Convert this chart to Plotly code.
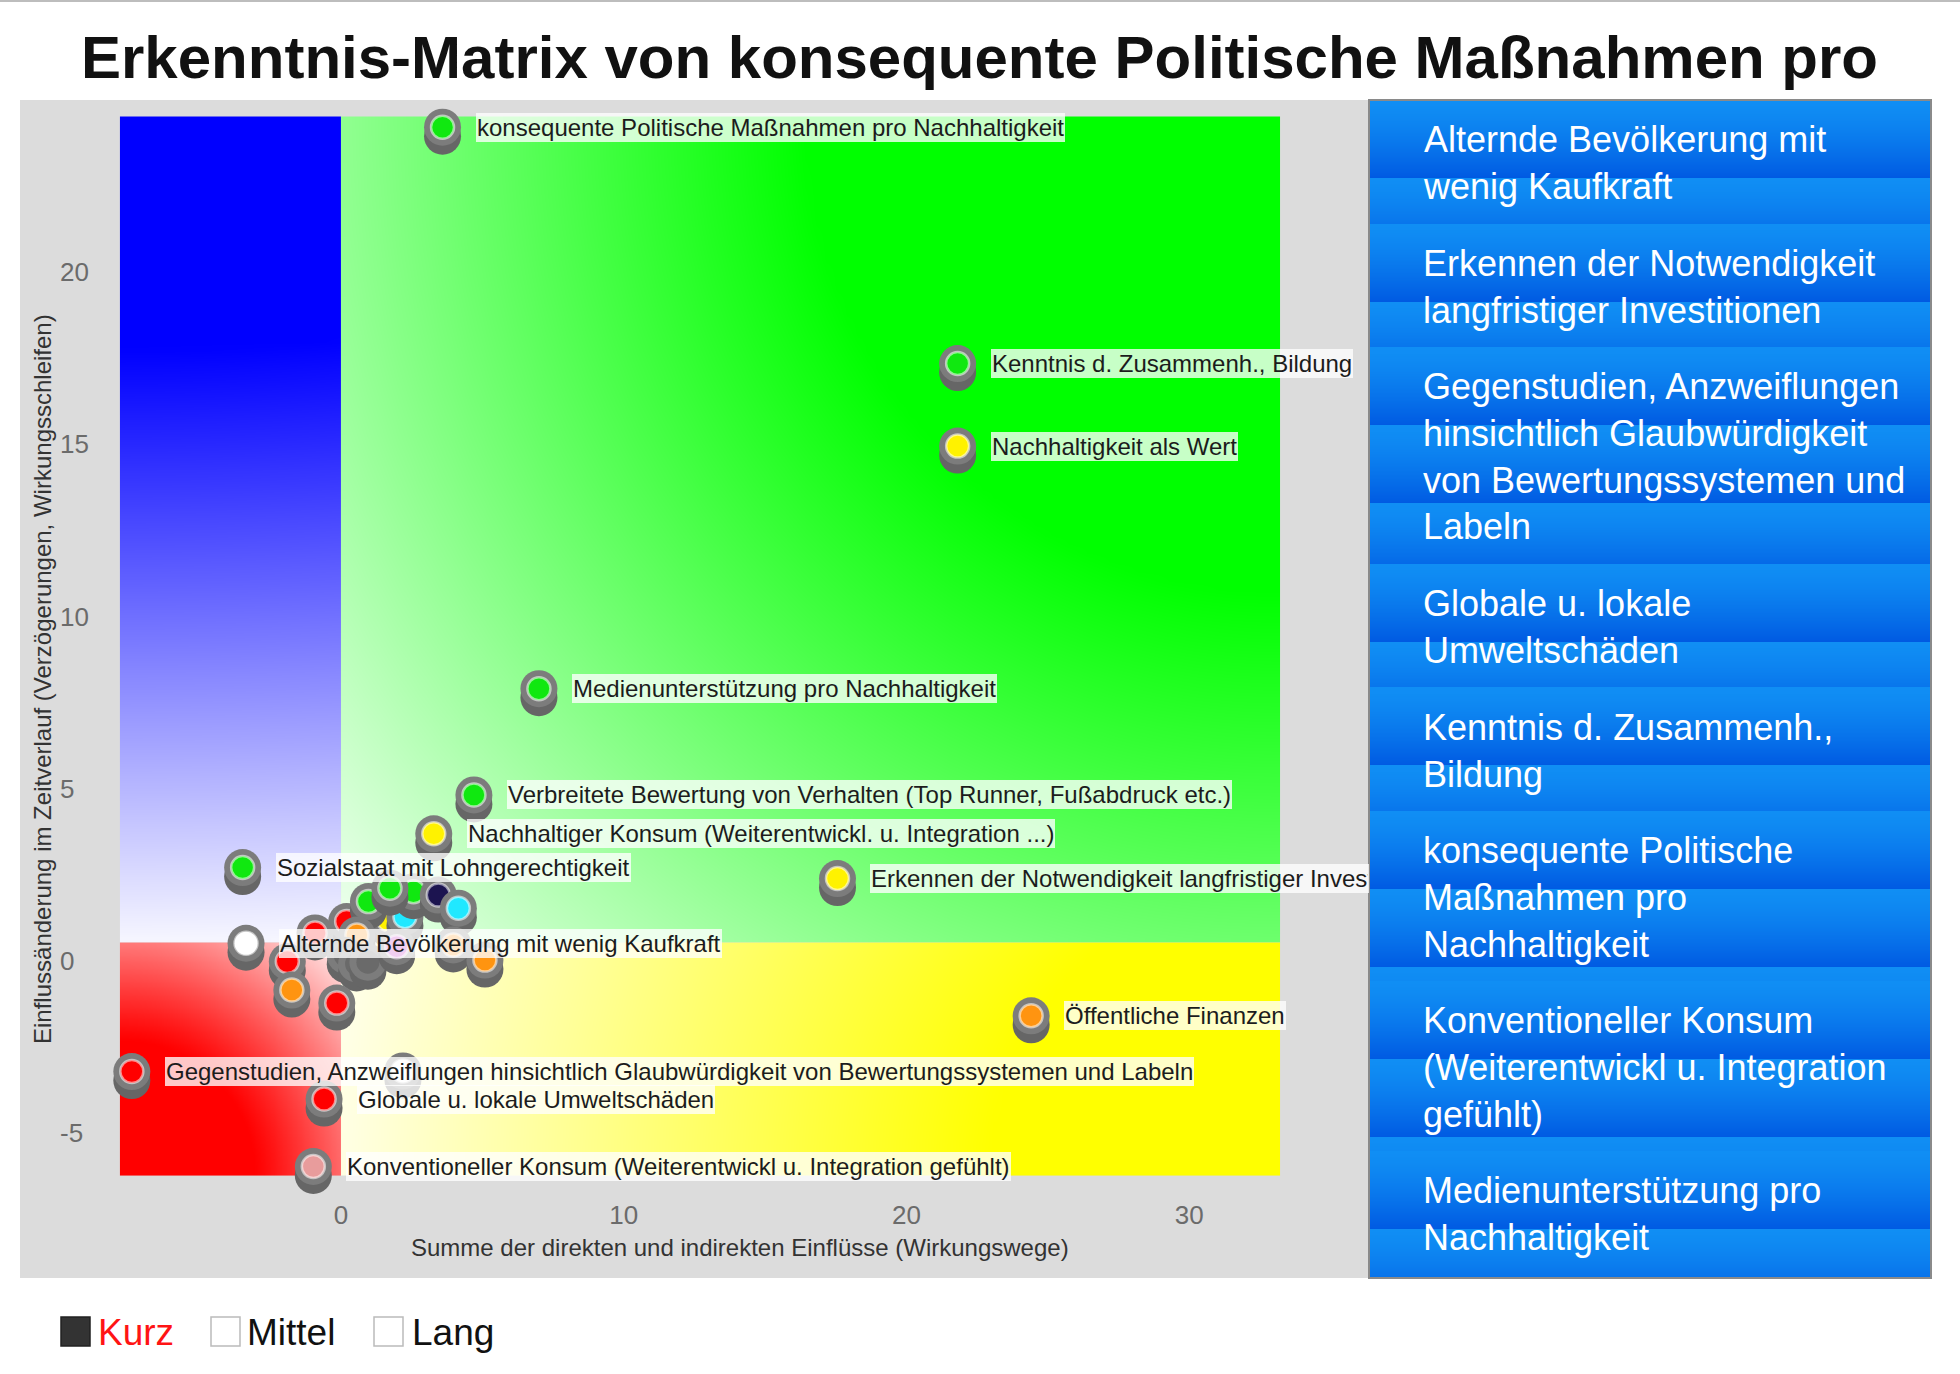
import numpy as np
import plotly.graph_objects as go

W, H = 1960, 1374
FONT = "Liberation Sans, Arial, Helvetica, sans-serif"

# ---------------- data ----------------
title_text = "Erkenntnis-Matrix von konsequente Politische Maßnahmen pro"
x_title = "Summe der direkten und indirekten Einflüsse (Wirkungswege)"
y_title = "Einflussänderung im Zeitverlauf (Verzögerungen, Wirkungsschleifen)"

x_ticks = [0, 10, 20, 30]
y_ticks = [-5, 0, 5, 10, 15, 20]
y_tick_text = ["-5", "0", "5", "10", "15", "20"]

point_labels = [
    "konsequente Politische Maßnahmen pro Nachhaltigkeit",
    "Kenntnis d. Zusammenh., Bildung",
    "Nachhaltigkeit als Wert",
    "Medienunterstützung pro Nachhaltigkeit",
    "Verbreitete Bewertung von Verhalten (Top Runner, Fußabdruck etc.)",
    "Nachhaltiger Konsum (Weiterentwickl. u. Integration ...)",
    "Sozialstaat mit Lohngerechtigkeit",
    "Erkennen der Notwendigkeit langfristiger Investitionen",
    "", "", "", "", "", "", "", "", "", "", "", "", "", "", "", "",
    "Alternde Bevölkerung mit wenig Kaufkraft",
    "", "", "",
    "Öffentliche Finanzen",
    "",
    "Gegenstudien, Anzweiflungen hinsichtlich Glaubwürdigkeit von Bewertungssystemen und Labeln",
    "Globale u. lokale Umweltschäden",
    "Konventioneller Konsum (Weiterentwickl u. Integration gefühlt)",
]
point_x = [3.59, 21.81, 21.81, 7.00, 4.70, 3.28, -3.48, 17.56,
           0.20, 1.67, 2.26, 0.97, 2.56, 1.73, 3.44, 4.15,
           -0.92, 0.56, 0.15, 0.55, 0.95, 1.97, 3.97, 5.09,
           -3.36, -1.90, -1.74, -0.15, 24.41, 2.19, -7.40, -0.60, -0.98]
point_y = [24.22, 17.35, 14.95, 7.90, 4.81, 3.68, 2.70, 2.38,
           1.13, 1.18, 1.27, 1.71, 2.00, 2.10, 1.90, 1.52,
           0.80, 0.74, 0.15, -0.10, -0.05, 0.40, 0.45, 0.01,
           0.50, -0.03, -0.86, -1.24, -1.61, -3.21, -3.23, -4.03, -5.99]
point_color = ["#10e810", "#10e810", "#fff200", "#10e810", "#10e810", "#fff200", "#10e810", "#fff200",
               "#ff0000", "#fff200", "#20e8ff", "#10e810", "#10e810", "#10e810", "#1c1450", "#20e8ff",
               "#ff0000", "#ff9410", "#6a6a6a", "#6a6a6a", "#6a6a6a", "#c020c0", "#ff9410", "#ff9410",
               "#ffffff", "#ff0000", "#ff9410", "#ff0000", "#ff9410", "#ffffff", "#ff0000", "#ff0000", "#e89c9c"]

panel_items = [
    ["Alternde Bevölkerung mit", "wenig Kaufkraft"],
    ["Erkennen der Notwendigkeit", "langfristiger Investitionen"],
    ["Gegenstudien, Anzweiflungen", "hinsichtlich Glaubwürdigkeit", "von Bewertungssystemen und", "Labeln"],
    ["Globale u. lokale", "Umweltschäden"],
    ["Kenntnis d. Zusammenh.,", "Bildung"],
    ["konsequente Politische", "Maßnahmen pro", "Nachhaltigkeit"],
    ["Konventioneller Konsum", "(Weiterentwickl u. Integration", "gefühlt)"],
    ["Medienunterstützung pro", "Nachhaltigkeit"],
]

legend_items = ["Kurz", "Mittel", "Lang"]
legend_active = [True, False, False]

# ---------------- geometry ----------------
PLOT_L, PLOT_R, PLOT_T, PLOT_B = 20, 1369, 100, 1278
X_RANGE = [-11.355, 36.36]
Y_RANGE = [-9.23, 25.01]
SX = (PLOT_R - PLOT_L) / (X_RANGE[1] - X_RANGE[0])
SY = (PLOT_B - PLOT_T) / (Y_RANGE[1] - Y_RANGE[0])

QX0, QX1, QY0, QY1 = -7.82, 33.22, -6.26, 24.53
SPX, SPY = 0.0, 0.52

PANEL_L, PANEL_R, PANEL_T, PANEL_B = 1369, 1931, 100, 1278
LABEL_SIZE = 24


def px(v):
    return v / W


def py(v):
    return 1 - v / H


fig = go.Figure()


# ---------------- quadrant gradients ----------------
def quad(xa, xb, ya, yb, fx, fy, light, full, r0, gamma, wx=1.0, wy=1.0):
    n = 90
    xc = xa + (np.arange(n) + 0.5) * (xb - xa) / n
    yc = ya + (np.arange(n) + 0.5) * (yb - ya) / n
    X, Y = np.meshgrid(xc, yc)
    d = np.hypot(wx * (X - fx) * SX, wy * (Y - fy) * SY)
    diag = np.hypot(wx * (xb - xa) * SX, wy * (yb - ya) * SY)
    r = d / diag
    z = np.clip((r - r0) / (1 - r0), 0, 1) ** gamma
    fig.add_trace(go.Heatmap(
        x=xc, y=yc, z=z, zmin=0, zmax=1, zsmooth="best",
        colorscale=[[0, full], [1, light]], showscale=False, hoverinfo="skip"))


quad(QX0, SPX, SPY, QY1, QX0, QY1, "rgb(248,248,255)", "rgb(0,0,255)", 0.28, 1.0, wx=0.3)
quad(SPX, QX1, SPY, QY1, QX1, QY1, "rgb(242,255,242)", "rgb(0,255,0)", 0.38, 1.0)
quad(QX0, SPX, QY0, SPY, QX0, QY0, "rgb(255,246,246)", "rgb(255,0,0)", 0.42, 1.1)
quad(SPX, QX1, QY0, SPY, QX1, QY0, "rgb(255,255,238)", "rgb(255,255,0)", 0.3, 1.0)

# ---------------- markers ----------------
off = 9 / SY
for xv, yv, c in zip(point_x, point_y, point_color):
    ring = "rgba(255,255,255,0.55)" if c != "#6a6a6a" else "rgba(0,0,0,0)"
    fig.add_trace(go.Scatter(x=[xv], y=[yv - off], mode="markers", hoverinfo="skip",
                             marker=dict(size=37, color="#666666", line=dict(width=0))))
    fig.add_trace(go.Scatter(x=[xv], y=[yv], mode="markers", hoverinfo="skip",
                             marker=dict(size=37, color="#7c7c7c", line=dict(width=0))))
    fig.add_trace(go.Scatter(x=[xv], y=[yv], mode="markers", hoverinfo="skip",
                             marker=dict(size=23, color=c, line=dict(width=2.5, color=ring))))

# ---------------- panel background ----------------
LINE_H = 46.25
ITEM_PAD = 31.25
PERIOD = 78.0
tops = []
t = PANEL_T
for it in panel_items:
    tops.append(t)
    t += len(it) * LINE_H + ITEM_PAD
tops.append(PANEL_B + 1)

rows = np.arange(PANEL_T, PANEL_B) + 0.5
zp = []
for p in rows:
    k = max(i for i in range(len(panel_items)) if tops[i] <= p)
    ph = ((p - tops[k]) % PERIOD) / PERIOD
    zp.append([ph ** 1.4, ph ** 1.4])
fig.add_trace(go.Heatmap(x=[0.25, 0.75], y=rows, z=zp, zmin=0, zmax=1,
                         colorscale=[[0, "rgb(16,142,244)"], [1, "rgb(0,90,226)"]],
                         showscale=False, hoverinfo="skip", xaxis="x2", yaxis="y2"))

annotations = []
shapes = []

# ---------------- point labels ----------------
XSHIFT = 33
for lab, xv, yv in zip(point_labels, point_x, point_y):
    if not lab:
        continue
    a = dict(x=xv, y=yv, xref="x", yref="y", text=lab, showarrow=False,
             xanchor="left", yanchor="middle", xshift=XSHIFT, align="left",
             font=dict(family=FONT, size=LABEL_SIZE, color="#1c1c1c"),
             bgcolor="rgba(255,255,255,0.78)", borderpad=1, borderwidth=0)
    start_px = PLOT_L + (xv - X_RANGE[0]) * SX + XSHIFT
    est_w = len(lab) * 11.8
    if start_px + est_w > PLOT_R:
        a["width"] = PLOT_R - start_px - 2
    annotations.append(a)

# ---------------- panel text ----------------
for it, top in zip(panel_items, tops):
    center = top + 40 + (len(it) - 1) * LINE_H / 2
    annotations.append(dict(
        x=px(1421), y=py(center), xref="paper", yref="paper", showarrow=False,
        xanchor="left", yanchor="middle", align="left",
        text="<br>".join(it), font=dict(family=FONT, size=36, color="white")))

# ---------------- titles ----------------
annotations.append(dict(x=px(979), y=py(58), xref="paper", yref="paper", showarrow=False,
                        xanchor="center", yanchor="middle", text=f"<b>{title_text}</b>",
                        font=dict(family=FONT, size=60, color="#111111")))
annotations.append(dict(x=px(740), y=py(1247.5), xref="paper", yref="paper", showarrow=False,
                        xanchor="center", yanchor="middle", text=x_title,
                        font=dict(family=FONT, size=24, color="#333333")))
annotations.append(dict(x=px(42), y=py(679), xref="paper", yref="paper", showarrow=False,
                        xanchor="center", yanchor="middle", text=y_title, textangle=-90,
                        font=dict(family=FONT, size=24, color="#333333")))

# ---------------- legend ----------------
leg_sq_x = [61, 211, 374]
leg_tx_x = [96, 245, 410]
for name, act, sx0, tx in zip(legend_items, legend_active, leg_sq_x, leg_tx_x):
    shapes.append(dict(type="rect", xref="paper", yref="paper",
                       x0=px(sx0), x1=px(sx0 + 29), y0=py(1346), y1=py(1317),
                       fillcolor="#333333" if act else "white",
                       line=dict(color="#222222" if act else "#bbbbbb", width=1.5)))
    annotations.append(dict(x=px(tx), y=py(1332), xref="paper", yref="paper", showarrow=False,
                            xanchor="left", yanchor="middle", text=name,
                            font=dict(family=FONT, size=37, color="#ff1414" if act else "#111111")))

# panel border and top line
shapes.append(dict(type="rect", xref="paper", yref="paper", x0=px(PANEL_L), x1=px(PANEL_R),
                   y0=py(PANEL_B), y1=py(PANEL_T), line=dict(color="#8a8a8a", width=2),
                   fillcolor="rgba(0,0,0,0)", layer="above"))
shapes.append(dict(type="line", xref="paper", yref="paper", x0=0, x1=1, y0=py(1), y1=py(1),
                   line=dict(color="#bdbdbd", width=2)))

fig.update_layout(
    width=W, height=H,
    margin=dict(l=0, r=0, t=0, b=0),
    paper_bgcolor="white", plot_bgcolor="#dcdcdc",
    showlegend=False, hovermode=False,
    xaxis=dict(domain=[PLOT_L / W, PLOT_R / W], range=X_RANGE, tickvals=x_ticks,
               ticklabelposition="inside", ticklabelstandoff=46, ticks="",
               showgrid=False, zeroline=False, showline=False, automargin=False,
               tickfont=dict(family=FONT, size=26, color="#6b6b6b"), anchor="y"),
    yaxis=dict(domain=[1 - PLOT_B / H, 1 - PLOT_T / H], range=Y_RANGE, tickvals=y_ticks,
               ticktext=y_tick_text,
               ticklabelposition="inside", ticklabelstandoff=37, ticks="",
               showgrid=False, zeroline=False, showline=False, automargin=False,
               tickfont=dict(family=FONT, size=26, color="#6b6b6b"), anchor="x"),
    xaxis2=dict(domain=[PANEL_L / W, PANEL_R / W], range=[0, 1], visible=False, anchor="y2",
                fixedrange=True),
    yaxis2=dict(domain=[1 - PANEL_B / H, 1 - PANEL_T / H], range=[PANEL_B, PANEL_T],
                visible=False, anchor="x2", fixedrange=True),
    annotations=annotations,
    shapes=shapes,
)

fig.write_html("out.html", config={"displayModeBar": False},
               post_script="document.body.style.margin='0';document.body.style.overflow='hidden';")
